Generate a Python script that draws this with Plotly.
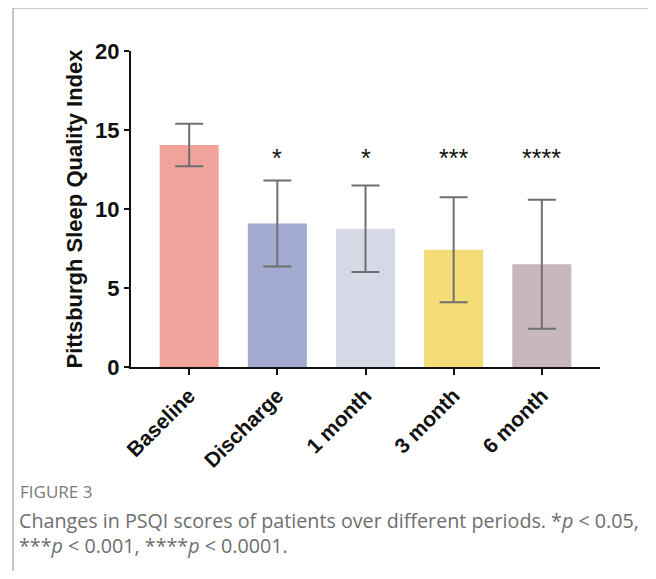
import plotly.graph_objects as go

categories = ["Baseline", "Discharge", "1 month", "3 month", "6 month"]
means = [14.05, 9.08, 8.75, 7.42, 6.50]
sd = [1.35, 2.72, 2.74, 3.32, 4.08]
stars = ["", "*", "*", "***", "****"]
colors = ["#F1A29B", "#A2ABCF", "#D5D9E6", "#F4DC77", "#C8B7BB"]
y_ticks = [0, 5, 10, 15, 20]
caption_title = "FIGURE 3"
caption_lines = [
    "Changes in PSQI scores of patients over different periods. *<i>p</i> &lt; 0.05,",
    "***<i>p</i> &lt; 0.001, ****<i>p</i> &lt; 0.0001.",
]

x_idx = list(range(len(categories)))

# the page has a default 8px body margin; work in page pixels and subtract it
OFF = 8
W, H = 656 - OFF, 579 - 2 * OFF
ml, mr, mt, mb = 131 - OFF, 56, 51 - OFF, 212 - OFF
pw, ph = W - ml - mr, H - mt - mb

def px(x):
    return (x - OFF - ml) / pw

def py(y):
    return (H - mb - (y - OFF)) / ph

fig = go.Figure()
fig.add_trace(go.Bar(
    x=x_idx, y=means, width=0.67,
    marker=dict(color=colors, line=dict(width=0)),
    error_y=dict(type="data", array=sd, visible=True, color="#6f6f6f", thickness=2, width=14),
    hoverinfo="skip",
))

for i, s in enumerate(stars):
    if s:
        fig.add_annotation(x=i, y=13.25, text=s, showarrow=False, xref="x", yref="y",
                           font=dict(family="Liberation Sans", size=25, color="#111"),
                           yanchor="middle")

fig.add_annotation(x=px(18), y=py(492), xref="paper", yref="paper", text=caption_title,
                   showarrow=False, xanchor="left", yanchor="middle",
                   font=dict(family="Open Sans", size=17, color="#7a7a7a"))
fig.add_annotation(x=px(17), y=py(520), xref="paper", yref="paper", text=caption_lines[0],
                   showarrow=False, xanchor="left", yanchor="middle",
                   font=dict(family="Open Sans", size=19.7, color="#6e6e6e"))
fig.add_annotation(x=px(17), y=py(545), xref="paper", yref="paper", text=caption_lines[1],
                   showarrow=False, xanchor="left", yanchor="middle",
                   font=dict(family="Open Sans", size=19.7, color="#6e6e6e"))

border = dict(color="#b5b5b5", width=1.5)
fig.add_shape(type="line", xref="paper", yref="paper", x0=px(13), x1=px(13), y0=py(8), y1=py(600), line=border)
fig.add_shape(type="line", xref="paper", yref="paper", x0=px(13), x1=px(655), y0=py(8), y1=py(8), line=border)
fig.add_shape(type="line", xref="paper", yref="paper", x0=px(655), x1=px(655), y0=py(8), y1=py(600), line=border)

fig.update_layout(
    width=W, height=H,
    margin=dict(l=ml, r=mr, t=mt, b=mb),
    paper_bgcolor="white", plot_bgcolor="white",
    showlegend=False,
    xaxis=dict(
        range=[-0.66, 4.66], tickmode="array", tickvals=x_idx, ticktext=[f"<b>{c}</b>" for c in categories],
        tickangle=-45, showline=True, linecolor="#111", linewidth=2, ticks="outside",
        ticklen=6, tickwidth=1.5, tickcolor="#111", showgrid=False, zeroline=False,
        tickfont=dict(family="Liberation Sans", size=21, color="#111"),
    ),
    yaxis=dict(
        range=[0, 20], tickmode="array", tickvals=y_ticks, ticktext=[f"<b>{v}</b>" for v in y_ticks],
        showline=True, linecolor="#111", linewidth=2, ticks="outside",
        ticklen=5, tickwidth=1.5, tickcolor="#111", showgrid=False, zeroline=False,
        tickfont=dict(family="Liberation Sans", size=22, color="#111"),
        title=dict(text="<b>Pittsburgh Sleep Quality Index</b>", standoff=6,
                   font=dict(family="Liberation Sans", size=22, color="#111")),
    ),
)

fig.write_html("out.html")
